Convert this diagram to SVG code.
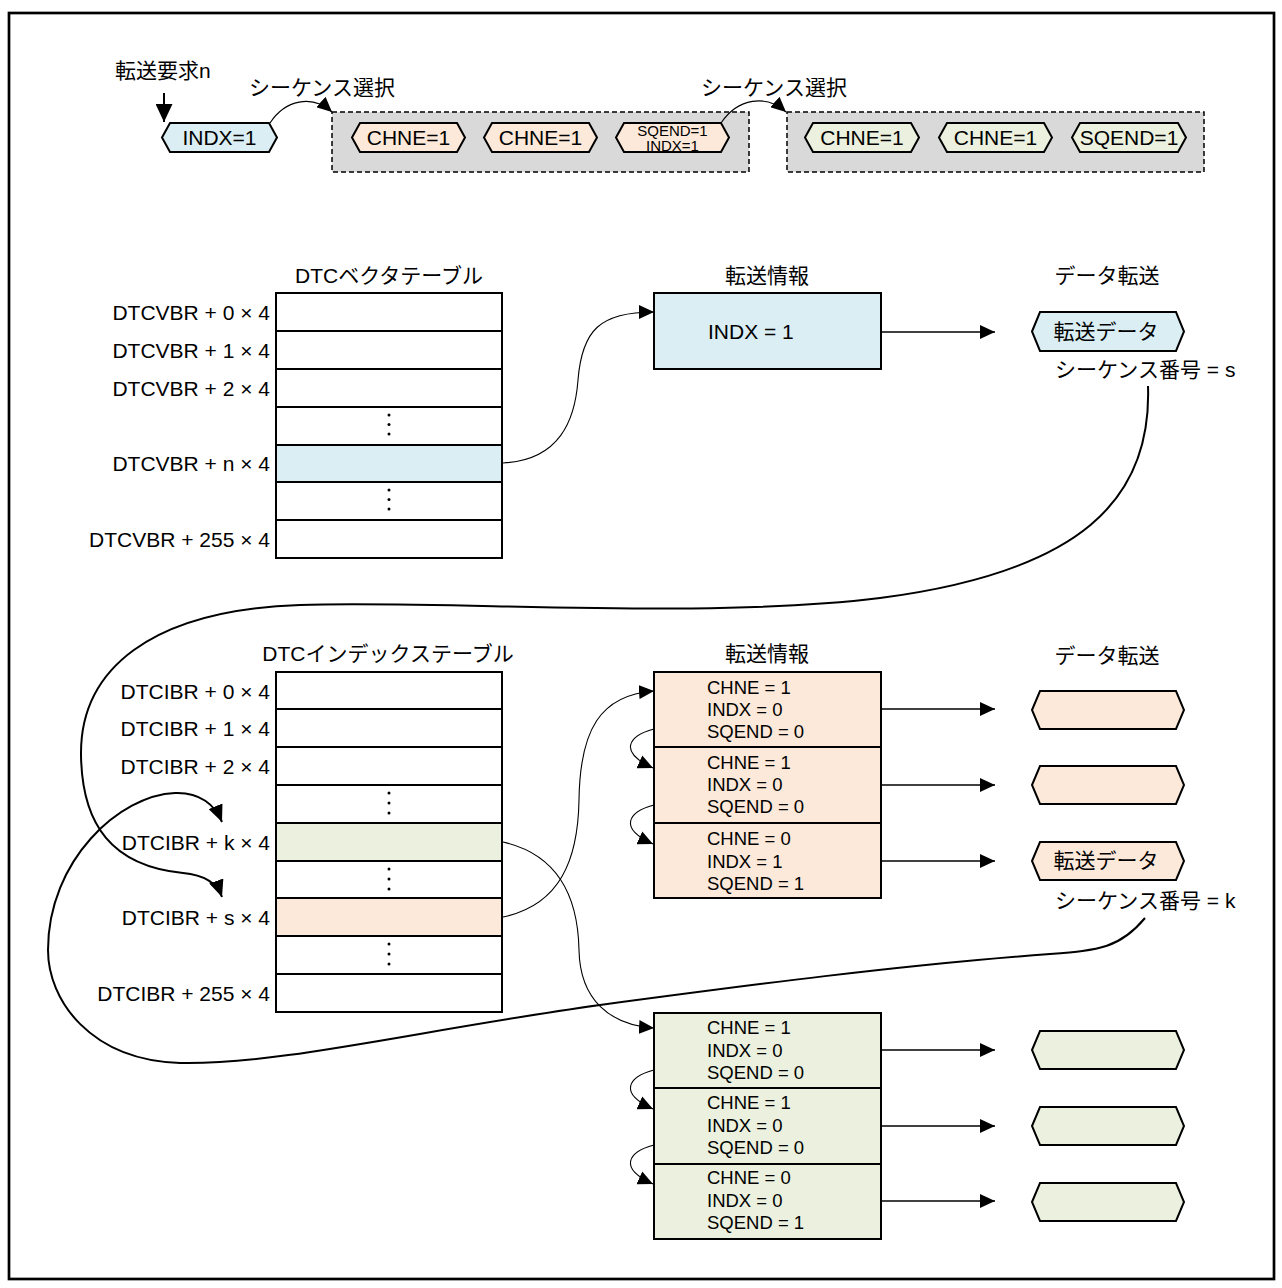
<svg xmlns="http://www.w3.org/2000/svg" width="1282" height="1288" viewBox="0 0 1282 1288">
<style>
text{font-family:"Liberation Sans","Noto Sans CJK JP",sans-serif;fill:#000;dominant-baseline:central}
.t21{font-size:21px}
.t18{font-size:18.5px}
.t15{font-size:15px}
.mid{text-anchor:middle}
.end{text-anchor:end}
.box{stroke:#000;stroke-width:2}
.blue{fill:#daeef3}
.org{fill:#fde9d9}
.grn{fill:#ebf1de}
.wht{fill:#fff}
.dash{fill:#d9d9d9;stroke:#000;stroke-width:1.5;stroke-dasharray:5 3}
.thin{fill:none;stroke:#000;stroke-width:1.1}
.thick{fill:none;stroke:#000;stroke-width:2}
.line{fill:none;stroke:#000;stroke-width:1.4}
</style>
<defs>
<marker id="a" markerUnits="userSpaceOnUse" markerWidth="15" markerHeight="14" refX="15" refY="7" orient="auto"><path d="M0,0L15,7L0,14z" fill="#000"/></marker>
<marker id="b" markerUnits="userSpaceOnUse" markerWidth="17" markerHeight="15" refX="17" refY="7.5" orient="auto"><path d="M0,0L17,7.5L0,15z" fill="#000"/></marker>
<marker id="c" markerUnits="userSpaceOnUse" markerWidth="18" markerHeight="17" refX="18" refY="8.5" orient="auto"><path d="M0,0L18,8.5L0,17z" fill="#000"/></marker>
</defs>
<rect x="9" y="13" width="1265" height="1266" fill="#fff" stroke="#000" stroke-width="2.7"/>

<g id="top-row">
<text class="t21" x="115" y="70">転送要求n</text>
<text class="t21" x="249" y="87">シーケンス選択</text>
<text class="t21" x="701" y="87">シーケンス選択</text>
<g id="req"><polygon class="box blue" points="162,137.5 170,123 269,123 277,137.5 269,152 170,152"/><text class="t21 mid" x="219.5" y="137.5">INDX=1</text></g>
<g id="seq1"><rect class="dash" x="332" y="112" width="417" height="60"/>
<polygon class="box org" points="352,137.5 360,123 457,123 465,137.5 457,152 360,152"/><text class="t21 mid" x="408.5" y="137.5">CHNE=1</text>
<polygon class="box org" points="484,137.5 492,123 589,123 597,137.5 589,152 492,152"/><text class="t21 mid" x="540.5" y="137.5">CHNE=1</text>
<polygon class="box org" points="616,137.5 624,123 721,123 729,137.5 721,152 624,152"/><text class="t15 mid" x="672.5" y="130">SQEND=1</text><text class="t15 mid" x="672.5" y="145">INDX=1</text></g>
<g id="seq2"><rect class="dash" x="787" y="112" width="417" height="60"/>
<polygon class="box grn" points="805,137.5 813,123 911,123 919,137.5 911,152 813,152"/><text class="t21 mid" x="862" y="137.5">CHNE=1</text>
<polygon class="box grn" points="939,137.5 947,123 1044,123 1052,137.5 1044,152 947,152"/><text class="t21 mid" x="995.5" y="137.5">CHNE=1</text>
<polygon class="box grn" points="1072,137.5 1080,123 1178,123 1186,137.5 1178,152 1080,152"/><text class="t21 mid" x="1129" y="137.5">SQEND=1</text></g>
</g>

<g id="vector-table">
<text class="t21 mid" x="389" y="275">DTCベクタテーブル</text>
<rect class="box wht" x="276" y="293" width="226" height="38"/>
<rect class="box wht" x="276" y="331" width="226" height="38"/>
<rect class="box wht" x="276" y="369" width="226" height="38"/>
<rect class="box wht" x="276" y="407" width="226" height="38"/>
<rect class="box blue" x="276" y="445" width="226" height="37"/>
<rect class="box wht" x="276" y="482" width="226" height="38"/>
<rect class="box wht" x="276" y="520" width="226" height="38"/>
<circle cx="389" cy="415" r="1.5"/><circle cx="389" cy="424.5" r="1.5"/><circle cx="389" cy="434" r="1.5"/>
<circle cx="389" cy="490" r="1.5"/><circle cx="389" cy="499.5" r="1.5"/><circle cx="389" cy="509" r="1.5"/>
<text class="t21 end" x="270" y="312">DTCVBR + 0 × 4</text>
<text class="t21 end" x="270" y="350">DTCVBR + 1 × 4</text>
<text class="t21 end" x="270" y="388">DTCVBR + 2 × 4</text>
<text class="t21 end" x="270" y="463.5">DTCVBR + n × 4</text>
<text class="t21 end" x="270" y="539">DTCVBR + 255 × 4</text>
</g>

<g id="info-1">
<text class="t21 mid" x="767" y="275">転送情報</text>
<rect class="box blue" x="654" y="293" width="227" height="76"/>
<text class="t21" x="708" y="331">INDX = 1</text>
</g>
<g id="data-1">
<text class="t21 mid" x="1107" y="275">データ転送</text>
<polygon class="box blue" points="1032,331.5 1040,312 1176,312 1184,331.5 1176,351 1040,351"/>
<text class="t21 mid" x="1106" y="331.5">転送データ</text>
<text class="t21" x="1055" y="369">シーケンス番号 = s</text>
</g>

<g id="index-table">
<text class="t21 mid" x="388" y="653">DTCインデックステーブル</text>
<rect class="box wht" x="276" y="672" width="226" height="37"/>
<rect class="box wht" x="276" y="709" width="226" height="38"/>
<rect class="box wht" x="276" y="747" width="226" height="38"/>
<rect class="box wht" x="276" y="785" width="226" height="38"/>
<rect class="box grn" x="276" y="823" width="226" height="38"/>
<rect class="box wht" x="276" y="861" width="226" height="37"/>
<rect class="box org" x="276" y="898" width="226" height="38"/>
<rect class="box wht" x="276" y="936" width="226" height="38"/>
<rect class="box wht" x="276" y="974" width="226" height="38"/>
<circle cx="389" cy="793" r="1.5"/><circle cx="389" cy="803" r="1.5"/><circle cx="389" cy="813" r="1.5"/>
<circle cx="389" cy="869" r="1.5"/><circle cx="389" cy="879" r="1.5"/><circle cx="389" cy="889" r="1.5"/>
<circle cx="389" cy="944" r="1.5"/><circle cx="389" cy="954" r="1.5"/><circle cx="389" cy="964" r="1.5"/>
<text class="t21 end" x="270" y="691">DTCIBR + 0 × 4</text>
<text class="t21 end" x="270" y="728">DTCIBR + 1 × 4</text>
<text class="t21 end" x="270" y="766">DTCIBR + 2 × 4</text>
<text class="t21 end" x="270" y="842">DTCIBR + k × 4</text>
<text class="t21 end" x="270" y="917">DTCIBR + s × 4</text>
<text class="t21 end" x="270" y="993">DTCIBR + 255 × 4</text>
</g>

<g id="info-2">
<text class="t21 mid" x="767" y="653">転送情報</text>
<rect class="box org" x="654" y="672" width="227" height="75"/>
<rect class="box org" x="654" y="747" width="227" height="76"/>
<rect class="box org" x="654" y="823" width="227" height="75"/>
<text class="t18" x="707" y="687">CHNE = 1</text><text class="t18" x="707" y="709">INDX = 0</text><text class="t18" x="707" y="731">SQEND = 0</text>
<text class="t18" x="707" y="762">CHNE = 1</text><text class="t18" x="707" y="784">INDX = 0</text><text class="t18" x="707" y="806">SQEND = 0</text>
<text class="t18" x="707" y="838">CHNE = 0</text><text class="t18" x="707" y="861">INDX = 1</text><text class="t18" x="707" y="883">SQEND = 1</text>
</g>
<g id="data-2">
<text class="t21 mid" x="1107" y="655">データ転送</text>
<polygon class="box org" points="1032,710 1040,691 1176,691 1184,710 1176,729 1040,729"/>
<polygon class="box org" points="1032,785 1040,766 1176,766 1184,785 1176,804 1040,804"/>
<polygon class="box org" points="1032,861 1040,842 1176,842 1184,861 1176,880 1040,880"/>
<text class="t21 mid" x="1106" y="860">転送データ</text>
<text class="t21" x="1055" y="900">シーケンス番号 = k</text>
</g>

<g id="info-3">
<rect class="box grn" x="654" y="1013" width="227" height="75"/>
<rect class="box grn" x="654" y="1088" width="227" height="76"/>
<rect class="box grn" x="654" y="1164" width="227" height="75"/>
<text class="t18" x="707" y="1027">CHNE = 1</text><text class="t18" x="707" y="1050">INDX = 0</text><text class="t18" x="707" y="1072">SQEND = 0</text>
<text class="t18" x="707" y="1102">CHNE = 1</text><text class="t18" x="707" y="1125">INDX = 0</text><text class="t18" x="707" y="1147">SQEND = 0</text>
<text class="t18" x="707" y="1177">CHNE = 0</text><text class="t18" x="707" y="1200">INDX = 0</text><text class="t18" x="707" y="1222">SQEND = 1</text>
</g>
<g id="data-3">
<polygon class="box grn" points="1032,1050 1040,1031 1176,1031 1184,1050 1176,1069 1040,1069"/>
<polygon class="box grn" points="1032,1126 1040,1107 1176,1107 1184,1126 1176,1145 1040,1145"/>
<polygon class="box grn" points="1032,1202 1040,1183 1176,1183 1184,1202 1176,1221 1040,1221"/>
</g>

<g id="connectors">
<path class="thick" d="M164,93 L164,122" marker-end="url(#c)"/>
<path class="thin" d="M270,123 C285,100 312,94 332,112" marker-end="url(#a)"/>
<path class="thin" d="M721,123 C738,98 766,94 786,112" marker-end="url(#a)"/>
<path class="thin" d="M503,463 C560,460 575,420 578,380 C582,330 600,312 654,312" marker-end="url(#a)"/>
<path class="line" d="M881,332 L995,332" marker-end="url(#a)"/>
<path class="thick" d="M1148,386 C1152,500 1080,572 880,598 C700,620 450,600 300,605 C150,610 80,670 81,755 C82,825 112,866 183,873 C205,875 217,883 222,897" marker-end="url(#b)"/>
<path class="thin" d="M503,917 C560,905 578,860 579,800 C580,730 600,695 654,691" marker-end="url(#a)"/>
<path class="thin" d="M503,842 C560,855 578,900 579,950 C580,1000 610,1025 654,1028" marker-end="url(#a)"/>
<path class="thick" d="M1145,918 C1120,948 1100,950 1050,954 C900,965 750,985 600,1005 C420,1030 280,1065 180,1063 C90,1060 48,1000 48,950 C48,860 120,795 175,793 C200,792 215,805 222,822" marker-end="url(#b)"/>
<path class="thin" d="M654,729 C628,736 618,752 653,768" marker-end="url(#a)"/>
<path class="thin" d="M654,805 C628,812 618,828 653,844" marker-end="url(#a)"/>
<path class="thin" d="M654,1070 C628,1077 618,1093 653,1109" marker-end="url(#a)"/>
<path class="thin" d="M654,1145 C628,1152 618,1168 653,1184" marker-end="url(#a)"/>
<path class="line" d="M881,709 L995,709" marker-end="url(#a)"/>
<path class="line" d="M881,785 L995,785" marker-end="url(#a)"/>
<path class="line" d="M881,861 L995,861" marker-end="url(#a)"/>
<path class="line" d="M881,1050 L995,1050" marker-end="url(#a)"/>
<path class="line" d="M881,1126 L995,1126" marker-end="url(#a)"/>
<path class="line" d="M881,1201 L995,1201" marker-end="url(#a)"/>
</g>
</svg>
